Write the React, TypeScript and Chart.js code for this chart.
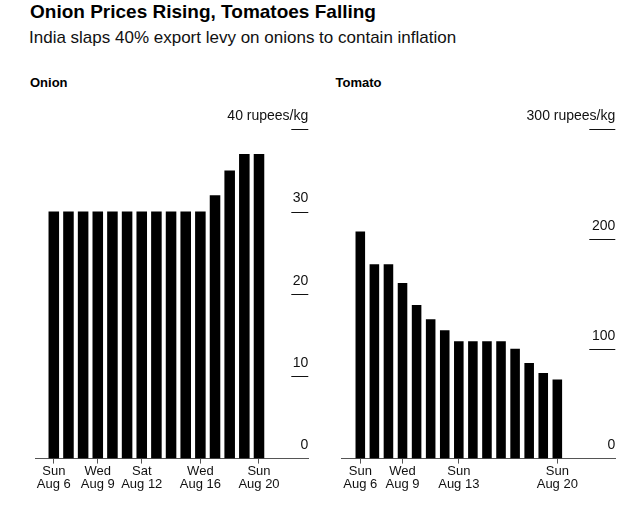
import React, { useEffect, useRef } from 'react';
import { Chart, registerables } from 'chart.js';

Chart.register(...registerables);

// ---- data ----
const month = 'Aug';
const unit = 'rupees/kg';
const days = [6, 7, 8, 9, 10, 11, 12, 13, 14, 15, 16, 17, 18, 19, 20];
const onionPrices = [30, 30, 30, 30, 30, 30, 30, 30, 30, 30, 30, 32, 35, 37, 37];
const tomatoPrices = [207, 177, 177, 160, 140, 127, 117, 107, 107, 107, 107, 100, 87, 78, 72];
const onionTickDays = [6, 9, 12, 16, 20];
const onionTickWeekdays = ['Sun', 'Wed', 'Sat', 'Wed', 'Sun'];
const tomatoTickDays = [6, 9, 13, 20];
const tomatoTickWeekdays = ['Sun', 'Wed', 'Sun', 'Sun'];
const onionYTicks = [0, 10, 20, 30, 40];
const tomatoYTicks = [0, 100, 200, 300];

const FONT = "'Liberation Sans', Arial, Helvetica, sans-serif";

const tickLinePlugin = {
  id: 'tickLines',
  afterDraw(chart: any, _args: any, opts: any) {
    const y = chart.scales.y;
    const { ctx, chartArea } = chart;
    ctx.save();
    ctx.strokeStyle = opts.color || '#111';
    ctx.lineWidth = opts.width || 1;
    y.ticks.forEach((t: any, i: number) => {
      if (t.value === 0) return;
      const py = Math.round(y.getPixelForTick(i)) + 0.5;
      ctx.beginPath();
      ctx.moveTo(chartArea.right - opts.length, py);
      ctx.lineTo(chartArea.right, py);
      ctx.stroke();
    });
    ctx.restore();
  },
};

type Props = {
  values: number[];
  tickDays: number[];
  tickWeekdays: string[];
  yTicks: number[];
  xMin: number;
  xMax: number;
  barPct: number;
  lineLen: number;
  padLeft: number;
  padRight: number;
  left: number;
};

function PriceChart(p: Props) {
  const ref = useRef<HTMLCanvasElement | null>(null);
  useEffect(() => {
    if (!ref.current) return;
    const top = p.yTicks[p.yTicks.length - 1];
    const chart = new Chart(ref.current, {
      type: 'bar',
      data: {
        labels: days,
        datasets: [
          {
            data: p.values,
            backgroundColor: '#000',
            borderWidth: 0,
            barPercentage: p.barPct,
            categoryPercentage: 1,
          },
        ],
      },
      plugins: [tickLinePlugin],
      options: {
        responsive: false,
        animation: false,
        devicePixelRatio: 1,
        layout: { padding: { left: p.padLeft, right: p.padRight, top: 29.3, bottom: 16.2 } },
        plugins: {
          legend: { display: false },
          tooltip: { enabled: false },
          title: { display: false },
          tickLines: { length: p.lineLen, color: '#111', width: 1 },
        } as any,
        scales: {
          x: {
            type: 'linear',
            offset: false,
            min: p.xMin,
            max: p.xMax,
            afterBuildTicks: (scale: any) => {
              scale.ticks = p.tickDays.map((d) => ({ value: d }));
            },
            grid: {
              display: true,
              offset: false,
              drawOnChartArea: false,
              drawTicks: true,
              tickLength: 5,
              color: '#555',
              lineWidth: 1,
            },
            border: { display: true, color: '#555', width: 1 },
            ticks: {
              autoSkip: false,
              maxRotation: 0,
              padding: 2,
              color: '#111',
              font: { family: FONT, size: 13, lineHeight: 0.97 },
              callback: (v: any) => {
                const i = p.tickDays.indexOf(Number(v));
                return i >= 0 ? [p.tickWeekdays[i], `${month} ${v}`] : '';
              },
            },
          },
          y: {
            position: 'right',
            min: 0,
            max: top,
            afterBuildTicks: (scale: any) => {
              scale.ticks = p.yTicks.map((v) => ({ value: v }));
            },
            grid: { display: false, drawTicks: false },
            border: { display: false },
            ticks: {
              mirror: true,
              padding: 0,
              labelOffset: -13,
              color: '#111',
              font: { family: FONT, size: 14 },
              callback: (v: any) => (Number(v) === top ? `${v} ${unit}` : `${v}`),
            },
          },
        },
      } as any,
    });
    return () => chart.destroy();
  }, []);
  return (
    <canvas
      ref={ref}
      width={295}
      height={409}
      style={{ position: 'absolute', left: p.left, top: 100, width: 295, height: 409, display: 'block' }}
    />
  );
}

export default function App() {
  const text: React.CSSProperties = { position: 'absolute', fontFamily: FONT, color: '#000', whiteSpace: 'nowrap' };
  return (
    <div style={{ position: 'absolute', left: 0, top: 0, width: 640, height: 509, background: '#fff', overflow: 'hidden' }}>
      <div style={{ ...text, left: 30, top: 1, fontSize: 19, lineHeight: '22px', fontWeight: 700 }}>
        Onion Prices Rising, Tomatoes Falling
      </div>
      <div style={{ ...text, left: 29, top: 28, fontSize: 17, lineHeight: '20px', color: '#111' }}>
        India slaps 40% export levy on onions to contain inflation
      </div>
      <div style={{ ...text, left: 30, top: 75, fontSize: 13, lineHeight: '16px', fontWeight: 700 }}>Onion</div>
      <div style={{ ...text, left: 335.5, top: 75, fontSize: 13, lineHeight: '16px', fontWeight: 700 }}>Tomato</div>
      <PriceChart
        values={onionPrices}
        tickDays={onionTickDays}
        tickWeekdays={onionTickWeekdays}
        yTicks={onionYTicks}
        xMin={4.717}
        xMax={23.364}
        barPct={0.72}
        lineLen={17}
        padLeft={10}
        padRight={11.7}
        left={25}
      />
      <PriceChart
        values={tomatoPrices}
        tickDays={tomatoTickDays}
        tickWeekdays={tomatoTickWeekdays}
        yTicks={tomatoYTicks}
        xMin={4.678}
        xMax={24.12}
        barPct={0.68}
        lineLen={26}
        padLeft={11.7}
        padRight={9.7}
        left={330}
      />
    </div>
  );
}
